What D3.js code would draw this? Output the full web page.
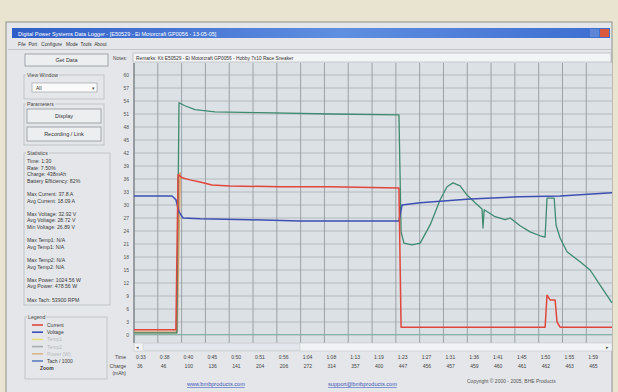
<!DOCTYPE html>
<html>
<head>
<meta charset="utf-8">
<script src="https://cdn.jsdelivr.net/npm/d3@7"></script>
<style>
  body { margin: 0; background: #e9e4cf; }
  svg { display: block; font-family: "Liberation Sans", Arial, sans-serif; }
</style>
</head>
<body>
<svg id="chart" width="618" height="392"></svg>
<script>
// x positions are in "grid column" units: column i sits on the i-th time label
const timeLabels = ["0:33", "0:38", "0:40", "0:45", "0:50", "0:51", "0:56", "1:04", "1:08", "1:13",
                    "1:19", "1:23", "1:27", "1:31", "1:36", "1:41", "1:45", "1:50", "1:55", "1:59"];
const chargeLabels = ["36", "46", "100", "136", "141", "204", "206", "272", "314", "357",
                      "400", "447", "456", "457", "459", "460", "461", "462", "463", "465"];
const yTickValues = [0, 3, 6, 9, 12, 15, 18, 21, 24, 27, 30, 33, 36, 39, 42, 45, 48, 51, 54, 57, 60];

// Current (A)
const currentPts = [[0, 1.2], [1.76, 1.2], [1.85, 37.0], [2.02, 36.3], [2.35, 35.8], [2.77, 35.3],
  [3.28, 34.6], [4.03, 34.4], [6.13, 34.2], [8.24, 34.2], [11.13, 33.9], [11.22, 1.8],
  [17.27, 1.8], [17.35, 9.2], [17.48, 8.1], [17.69, 8.1], [17.77, 3.0], [17.9, 1.8], [20.08, 1.8]];
// Voltage (V)
const voltagePts = [[0, 32.1], [1.6, 32.1], [1.76, 31.2], [1.89, 28.4], [2.06, 27.0], [2.77, 26.8],
  [4.87, 26.6], [6.97, 26.3], [9.08, 26.3], [11.13, 26.3], [11.26, 30.0], [12.02, 30.5],
  [14.12, 31.4], [16.2, 31.9], [17.9, 32.1], [20.08, 32.8]];
// Tach / 1000
const tachPts = [[0, 0.5], [1.8, 0.5], [1.89, 53.6], [2.14, 52.9], [2.56, 52.0], [3.4, 51.5],
  [5.29, 51.3], [8.24, 51.0], [11.13, 50.8], [11.22, 23.8], [11.34, 21.2], [11.68, 20.8],
  [12.02, 21.2], [12.44, 25.4], [12.86, 31.2], [13.15, 34.2], [13.4, 35.1], [13.7, 34.4],
  [13.99, 32.3], [14.33, 30.5], [14.62, 29.1], [14.66, 24.7], [14.71, 28.9], [15.17, 27.3],
  [15.59, 26.6], [15.8, 27.0], [16.22, 25.2], [16.64, 23.8], [17.06, 22.9], [17.27, 22.6],
  [17.35, 31.6], [17.65, 31.6], [17.73, 25.4], [17.9, 22.4], [18.19, 19.2], [18.74, 16.9],
  [19.16, 15.0], [19.58, 11.5], [20.08, 7.4]];
// Power (W) edge, mostly hidden under the current trace
const powerPts = [[0, 0.6], [1.8, 0.6], [1.93, 37.5]];
const temp2Pts = [[0, 0.1], [20.08, 0.1]];

const legendNames = ["Current", "Voltage", "Temp1", "Temp2", "Power (W)", "Tach / 1000", "Zoom"];
const legendColors = ["#e0463c", "#3d4fb2", "#e6e07a", "#a9aeb0", "#d9b48a", "#5d7fc0", null];

const statsLines = ["Time: 1:30", "Rate: 7.50%", "Charge: 438mAh", "Battery Efficiency: 82%", "",
  "Max Current: 37.8 A", "Avg Current: 18.09 A", "",
  "Max Voltage: 32.92 V", "Avg Voltage: 28.72 V", "Min Voltage: 26.89 V", "",
  "Max Temp1: N/A", "Avg Temp1: N/A", "", "Max Temp2: N/A", "Avg Temp2: N/A", "",
  "Max Power: 1024.56 W", "Avg Power: 478.56 W", "", "Max Tach: 53900 RPM"];

const svg = d3.select("#chart");

// window body
svg.append("rect").attr("x", 6).attr("y", 22).attr("width", 606).attr("height", 372)
  .attr("fill", "#e4e6e9").attr("stroke", "#8e8f8c");

// title bar
const grad = svg.append("defs").append("linearGradient").attr("id", "tb");
grad.append("stop").attr("offset", "0%").attr("stop-color", "#2f5ec8");
grad.append("stop").attr("offset", "55%").attr("stop-color", "#5f8fe0");
grad.append("stop").attr("offset", "100%").attr("stop-color", "#3d6dd0");
svg.append("rect").attr("x", 12).attr("y", 28).attr("width", 598).attr("height", 10).attr("fill", "url(#tb)");
svg.append("rect").attr("x", 600).attr("y", 29).attr("width", 9).attr("height", 8).attr("fill", "#d9583e");
svg.append("rect").attr("x", 590).attr("y", 29).attr("width", 9).attr("height", 8).attr("fill", "#5d86d6");
svg.append("text").attr("x", 18).attr("y", 35.5).attr("font-size", 5.5).attr("fill", "#fff")
  .text("Digital Power Systems Data Logger - [E50529 - Ei Motorcraft GP0056 - 13-05-05]");

// menu
svg.append("text").attr("x", 18).attr("y", 46).attr("font-size", 4.8).attr("fill", "#333")
  .attr("xml:space", "preserve").text("File  Port   Configure   Mode  Tools  About");
svg.append("line").attr("x1", 8).attr("x2", 611).attr("y1", 49.5).attr("y2", 49.5).attr("stroke", "#c4c7ca");

// ----- left panel -----
function button(x, y, w, h, label) {
  svg.append("rect").attr("x", x).attr("y", y).attr("width", w).attr("height", h)
    .attr("fill", "#eceef0").attr("stroke", "#8d9399").attr("stroke-width", 0.8);
  svg.append("text").attr("x", x + w / 2).attr("y", y + h / 2 + 2).attr("text-anchor", "middle")
    .attr("font-size", 5.5).attr("fill", "#333").text(label);
}
function group(x, y, w, h, label) {
  svg.append("rect").attr("x", x).attr("y", y).attr("width", w).attr("height", h)
    .attr("fill", "none").attr("stroke", "#b9bdc1").attr("stroke-width", 0.8);
  const t = svg.append("text").attr("x", x + 3).attr("y", y + 2).attr("font-size", 5.2).attr("fill", "#444").text(label);
  const bb = t.node().getBBox();
  svg.insert("rect", () => t.node()).attr("x", bb.x - 1).attr("y", bb.y).attr("width", bb.width + 2)
    .attr("height", bb.height).attr("fill", "#e4e6e9");
}
button(25, 54, 83, 12, "Get Data");
group(24, 75, 80, 24, "View Window");
svg.append("rect").attr("x", 32).attr("y", 83).attr("width", 65).attr("height", 9)
  .attr("fill", "#fafafa").attr("stroke", "#9ea3a8").attr("stroke-width", 0.7);
svg.append("text").attr("x", 36).attr("y", 89.5).attr("font-size", 5).attr("fill", "#333").text("All");
svg.append("text").attr("x", 92).attr("y", 89.5).attr("font-size", 5).attr("fill", "#555").text("▾");
group(24, 104, 80, 41, "Parameters");
button(27, 109, 74, 14, "Display");
button(27, 127, 74, 14, "Recording / Link");
group(24, 153, 86, 152, "Statistics");
svg.append("g").selectAll("text").data(statsLines).join("text")
  .attr("x", 27).attr("y", (d, i) => 163 + i * 6.6)
  .attr("font-size", 5.2).attr("fill", "#3a3a3a").text(d => d);

group(25, 317, 82, 62, "Legend");
const leg = svg.append("g").selectAll("g").data(legendNames).join("g")
  .attr("transform", (d, i) => `translate(32,${325 + i * 7.2})`);
leg.filter((d, i) => legendColors[i]).append("line").attr("x1", 0).attr("x2", 11).attr("y1", 0).attr("y2", 0)
  .attr("stroke", d => legendColors[legendNames.indexOf(d)]).attr("stroke-width", 1.6);
leg.append("text").attr("x", (d, i) => legendColors[i] ? 15 : 8).attr("y", 2)
  .attr("font-size", 5).attr("font-weight", (d, i) => legendColors[i] ? "normal" : "bold")
  .attr("fill", (d, i) => (i >= 2 && i <= 4) ? "#b8bcbf" : "#3a3a3a").text(d => d);

// ----- chart -----
const plotTop = 63, plotBottom = 343, plotLeft = 134, plotRight = 612;
const x = d3.scaleLinear().domain([0, 20.08]).range([plotLeft, plotRight]);
const y = d3.scaleLinear().domain([0, 60]).range([335, 75]);

// notes box
svg.append("text").attr("x", 113).attr("y", 60).attr("font-size", 4.8).attr("fill", "#444").text("Notes:");
svg.append("rect").attr("x", 133).attr("y", 53).attr("width", 478).attr("height", 9)
  .attr("fill", "#f3f4f5").attr("stroke", "#a7acb0").attr("stroke-width", 0.6);
svg.append("text").attr("x", 136).attr("y", 59.8).attr("font-size", 4.8).attr("fill", "#333")
  .text("Remarks: Kit E50529 - Ei Motorcraft GP0056 - Hobby 7x10 Race Sneaker");

svg.append("rect").attr("x", plotLeft).attr("y", plotTop).attr("width", plotRight - plotLeft)
  .attr("height", plotBottom - plotTop).attr("fill", "#dce1e5");

// horizontal grid
svg.append("g").selectAll("line").data(yTickValues).join("line")
  .attr("x1", plotLeft).attr("x2", plotRight).attr("y1", d => y(d)).attr("y2", d => y(d))
  .attr("stroke", "#a9b0b4").attr("stroke-width", 0.8);
// vertical grid
svg.append("g").selectAll("line").data(timeLabels).join("line")
  .attr("x1", (d, i) => x(i)).attr("x2", (d, i) => x(i)).attr("y1", plotTop).attr("y2", plotBottom)
  .attr("stroke", "#939b9f").attr("stroke-width", 0.9);
svg.append("line").attr("x1", plotLeft).attr("x2", plotLeft).attr("y1", plotTop).attr("y2", plotBottom)
  .attr("stroke", "#6f777b").attr("stroke-width", 1);

// y labels
svg.append("g").selectAll("text").data(yTickValues).join("text")
  .attr("x", plotLeft - 5).attr("y", d => y(d) + 1.8).attr("text-anchor", "end")
  .attr("font-size", 5).attr("fill", "#555").text(d => d);

// series
const line = d3.line().x(d => x(d[0])).y(d => y(d[1]));
const series = [
  { pts: temp2Pts, color: "#7fb3a8", w: 1 },
  { pts: powerPts, color: "#e2a46c", w: 2.2 },
  { pts: tachPts, color: "#3f8a70", w: 1.3 },
  { pts: voltagePts, color: "#3d4fb2", w: 1.5 },
  { pts: currentPts, color: "#e0463c", w: 1.5 }
];
svg.append("g").selectAll("path").data(series).join("path")
  .attr("d", d => line(d.pts)).attr("fill", "none")
  .attr("stroke", d => d.color).attr("stroke-width", d => d.w).attr("stroke-linejoin", "round");

// scrollbar
svg.append("rect").attr("x", plotLeft).attr("y", plotBottom).attr("width", plotRight - plotLeft).attr("height", 8)
  .attr("fill", "#f2f3f4").attr("stroke", "#c3c7cb").attr("stroke-width", 0.6);
svg.append("rect").attr("x", 143).attr("y", plotBottom + 0.8).attr("width", 157).attr("height", 6.4)
  .attr("fill", "#e3e6ea").attr("stroke", "#c9cdd1").attr("stroke-width", 0.6);
svg.append("text").attr("x", 136).attr("y", plotBottom + 6).attr("font-size", 5).attr("fill", "#555").text("◂");
svg.append("text").attr("x", 606).attr("y", plotBottom + 6).attr("font-size", 5).attr("fill", "#555").text("▸");

// bottom rows
svg.append("text").attr("x", 126).attr("y", 359).attr("text-anchor", "end").attr("font-size", 5).attr("fill", "#444").text("Time");
svg.append("text").attr("x", 126).attr("y", 368).attr("text-anchor", "end").attr("font-size", 5).attr("fill", "#444").text("Charge");
svg.append("text").attr("x", 126).attr("y", 375).attr("text-anchor", "end").attr("font-size", 5).attr("fill", "#444").text("(mAh)");
svg.append("g").selectAll("text").data(timeLabels).join("text")
  .attr("x", (d, i) => x(i) + 2).attr("y", 359).attr("font-size", 5).attr("fill", "#444").text(d => d);
svg.append("g").selectAll("text").data(chargeLabels).join("text")
  .attr("x", (d, i) => x(i) + 3).attr("y", 368).attr("font-size", 5).attr("fill", "#444").text(d => d);

// footer
svg.append("text").attr("x", 187).attr("y", 386).attr("font-size", 5.6).attr("fill", "#3b55b8")
  .attr("text-decoration", "underline").text("www.bmbproducts.com");
svg.append("text").attr("x", 328).attr("y", 386).attr("font-size", 5.6).attr("fill", "#3b55b8")
  .attr("text-decoration", "underline").text("support@bmbproducts.com");
svg.append("text").attr("x", 467).attr("y", 383).attr("font-size", 5).attr("fill", "#555")
  .text("Copyright © 2000 - 2005, BHE Products");
</script>
</body>
</html>
